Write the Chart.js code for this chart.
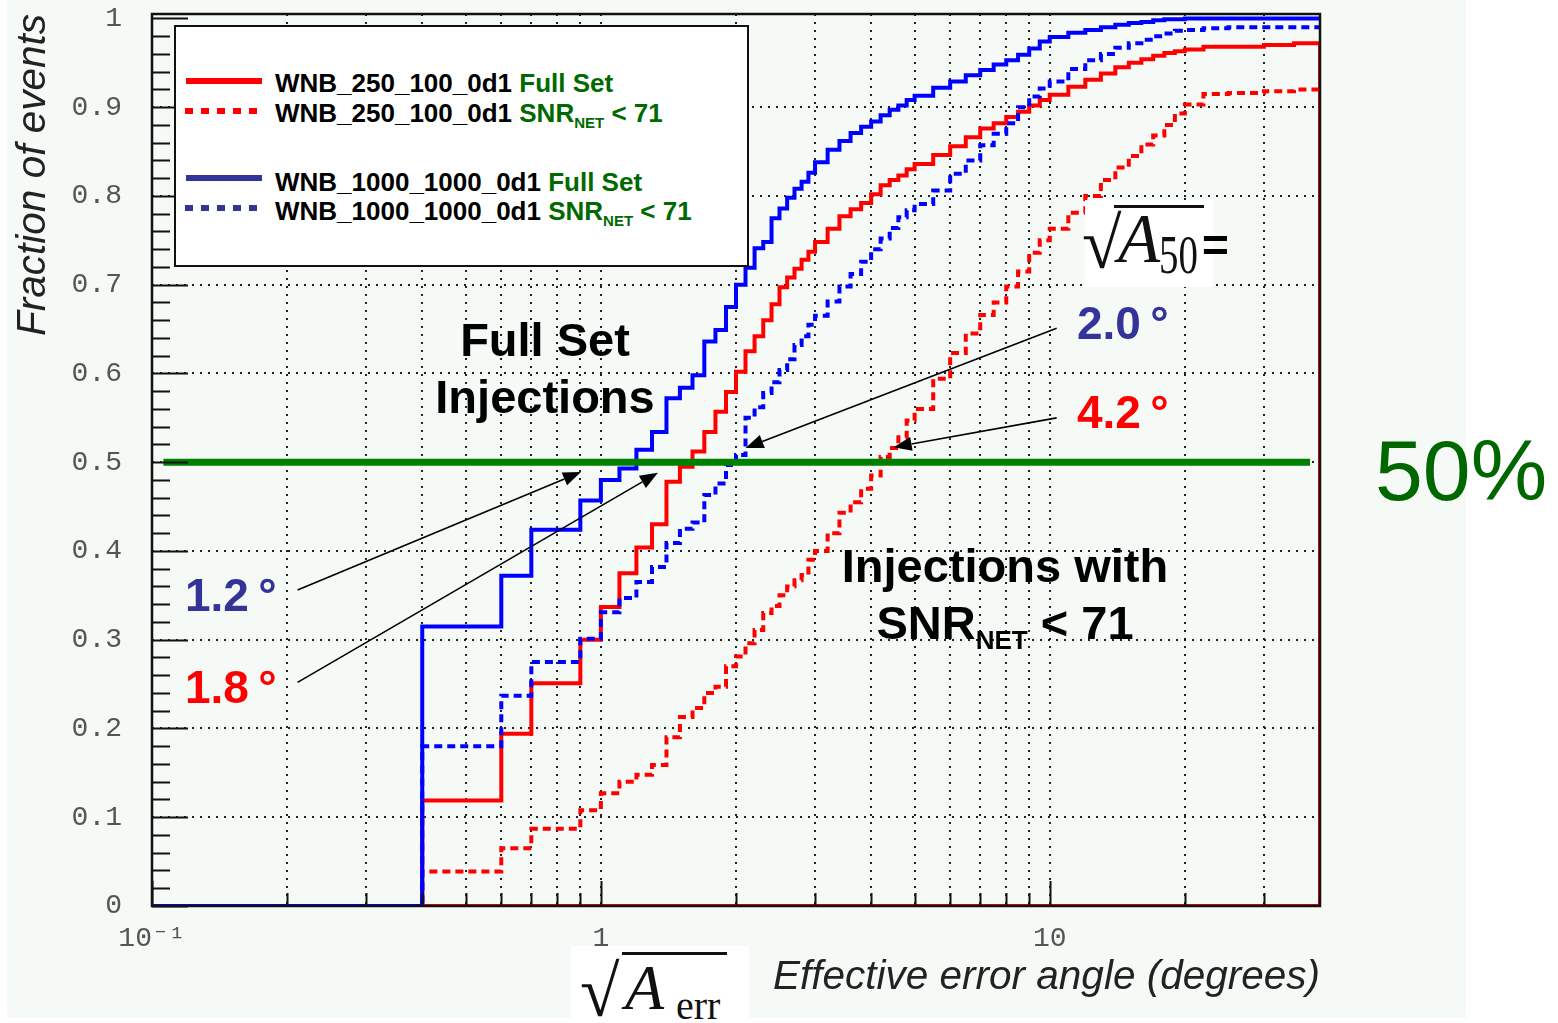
<!DOCTYPE html>
<html>
<head>
<meta charset="utf-8">
<title>Fraction of events vs effective error angle</title>
<script src="https://cdn.jsdelivr.net/npm/chart.js@4.4.1/dist/chart.umd.min.js"></script>
<style>
  html, body { margin: 0; padding: 0; background: #fff; }
  #page { position: relative; width: 1558px; height: 1023px; overflow: hidden;
          font-family: "Liberation Sans", Arial, sans-serif; }
  #slide { position: absolute; left: 7px; top: 0; width: 1459px; height: 1018px; background: #f6faf7; }
  #cdf { position: absolute; left: 0; top: 0; }
  .txt { position: absolute; white-space: nowrap; font-weight: bold; font-size: 46px; line-height: 50px; }
  .big { font-size: 47px; line-height: 57px; text-align: center; width: 360px; color: #000; }
  .navy { color: #333399; }
  .red { color: #ff0000; }
  .sub { font-size: 26px; position: relative; top: 10px; }

  #legend { position: absolute; left: 174px; top: 25px; width: 575px; height: 242px;
            box-sizing: border-box; border: 2px solid #111; background: #fff; }
  #legend .sw { position: absolute; left: 10px; width: 76px; height: 6px; }
  #legend .dot { width: 72px; left: 9px; }
  #legend .row { position: absolute; left: 99px; font-weight: bold; font-size: 26px; line-height: 30px;
                 white-space: nowrap; color: #000; }
  #legend .g { color: #006a00; }
  #legend .s { font-size: 15px; position: relative; top: 6px; }

  .mathbox { position: absolute; background: #fff; }
  .m { position: absolute; font-family: "Liberation Serif", "Times New Roman", serif; color: #111;
       white-space: nowrap; transform-origin: 0 0; }
  .bar { position: absolute; height: 3px; background: #111; }
</style>
</head>
<body>
<div id="page">
  <div id="slide"></div>
  <canvas id="cdf" width="1558" height="1023"></canvas>

  <div id="legend">
    <div class="sw" style="top:51px;background:#ff0000"></div>
    <div class="sw dot" style="top:81px;background:repeating-linear-gradient(90deg,#ff0000 0 8px,transparent 8px 16px)"></div>
    <div class="sw" style="top:148px;background:#333399"></div>
    <div class="sw dot" style="top:178px;background:repeating-linear-gradient(90deg,#333399 0 8px,transparent 8px 16px)"></div>
    <div class="row" style="top:41px">WNB_250_100_0d1 <span class="g">Full Set</span></div>
    <div class="row" style="top:71px">WNB_250_100_0d1 <span class="g">SNR<span class="s">NET</span> &lt; 71</span></div>
    <div class="row" style="top:140px">WNB_1000_1000_0d1 <span class="g">Full Set</span></div>
    <div class="row" style="top:169px">WNB_1000_1000_0d1 <span class="g">SNR<span class="s">NET</span> &lt; 71</span></div>
  </div>

  <div class="txt big" style="left:365px;top:311px">Full Set<br>Injections</div>
  <div class="txt big" style="left:825px;top:537px">Injections with<br>SNR<span class="sub">NET</span> &lt; 71</div>

  <div class="txt navy" style="left:185px;top:570px">1.2&#8201;°</div>
  <div class="txt red" style="left:185px;top:662px">1.8&#8201;°</div>
  <div class="txt navy" style="left:1077px;top:298px">2.0&#8201;°</div>
  <div class="txt red" style="left:1077px;top:387px">4.2&#8201;°</div>

  <div class="txt" style="left:1375px;top:420px;font-size:86px;line-height:100px;font-weight:normal;color:#006600">50%</div>

  <!-- sqrt(A_50) = -->
  <div class="mathbox" style="left:1085px;top:200px;width:128px;height:87px"></div>
  <div class="m" style="left:1082px;top:208px;font-size:72px;line-height:72px">&#8730;</div>
  <div class="bar" style="left:1114px;top:205px;width:90px"></div>
  <div class="m" style="left:1118px;top:205px;font-size:69px;line-height:69px;font-style:italic">A</div>
  <div class="m" style="left:1159px;top:228px;font-size:54px;line-height:54px;transform:scaleX(0.72)">50</div>
  <div class="txt" style="left:1202px;top:220px;color:#000">=</div>

  <!-- sqrt(A_err) -->
  <div class="mathbox" style="left:571px;top:946px;width:178px;height:77px"></div>
  <div class="m" style="left:580px;top:956px;font-size:72px;line-height:72px">&#8730;</div>
  <div class="bar" style="left:622px;top:952px;width:105px"></div>
  <div class="m" style="left:625px;top:956px;font-size:64px;line-height:64px;font-style:italic">A</div>
  <div class="m" style="left:676px;top:986px;font-size:40px;line-height:40px">err</div>
</div>

<script>
// bin edges of the angle histograms (degrees); each value holds until the next edge
const angleEdges = [0.1,
  0.4, 0.5, 0.6, 0.7, 0.8, 0.9, 1.0, 1.1, 1.2, 1.3, 1.4, 1.5, 1.6, 1.7, 1.8, 1.9, 2.0,
  2.1, 2.2, 2.3, 2.4, 2.5, 2.6, 2.7, 2.8, 2.9, 3.0,
  3.2, 3.4, 3.6, 3.8, 4.0, 4.2, 4.4, 4.6, 4.8, 5.0,
  5.5, 6.0, 6.5, 7.0, 7.5, 8.0, 8.5, 9.0, 9.5, 10,
  11, 12, 13, 14, 15, 16, 17, 18, 19, 20,
  22, 25, 30, 35,
  40];

// cumulative fraction of events
const wnb250Full = [0,
  0.119, 0.119, 0.194, 0.251, 0.251, 0.300, 0.337, 0.375, 0.404, 0.430, 0.478, 0.495, 0.512, 0.534, 0.557, 0.579, 0.602,
  0.625, 0.642, 0.660, 0.678, 0.697, 0.708, 0.718, 0.728, 0.737, 0.748,
  0.763, 0.777, 0.785, 0.792, 0.802, 0.812, 0.818, 0.823, 0.830, 0.836,
  0.846, 0.856, 0.866, 0.876, 0.882, 0.889, 0.895, 0.902, 0.908, 0.914,
  0.923, 0.931, 0.938, 0.945, 0.950, 0.954, 0.958, 0.961, 0.963, 0.965,
  0.968, 0.968, 0.970, 0.972,
  0];
const wnb250Snr = [0,
  0.039, 0.039, 0.065, 0.087, 0.087, 0.108, 0.127, 0.140, 0.148, 0.159, 0.190, 0.213, 0.223, 0.240, 0.247, 0.270, 0.281,
  0.296, 0.311, 0.330, 0.338, 0.350, 0.360, 0.367, 0.373, 0.390, 0.400,
  0.420, 0.443, 0.455, 0.470, 0.485, 0.506, 0.516, 0.528, 0.547, 0.560,
  0.594, 0.623, 0.645, 0.666, 0.680, 0.698, 0.715, 0.736, 0.750, 0.763,
  0.781, 0.800, 0.818, 0.832, 0.845, 0.858, 0.868, 0.880, 0.893, 0.903,
  0.915, 0.916, 0.918, 0.920,
  0];
const wnb1000Full = [0,
  0.315, 0.315, 0.372, 0.424, 0.424, 0.457, 0.480, 0.493, 0.514, 0.534, 0.572, 0.584, 0.598, 0.636, 0.649, 0.675, 0.700,
  0.719, 0.741, 0.748, 0.775, 0.786, 0.798, 0.808, 0.816, 0.826, 0.838,
  0.852, 0.862, 0.871, 0.878, 0.884, 0.891, 0.897, 0.902, 0.908, 0.913,
  0.922, 0.929, 0.936, 0.942, 0.948, 0.953, 0.959, 0.966, 0.974, 0.979,
  0.984, 0.987, 0.990, 0.993, 0.995, 0.996, 0.998, 0.999, 0.999, 1.0,
  1.0, 1.0, 1.0, 1.0,
  1.0];
const wnb1000Snr = [0,
  0.180, 0.180, 0.237, 0.275, 0.275, 0.301, 0.331, 0.347, 0.365, 0.382, 0.409, 0.425, 0.432, 0.463, 0.476, 0.497, 0.508,
  0.550, 0.562, 0.578, 0.590, 0.604, 0.616, 0.632, 0.642, 0.655, 0.665,
  0.681, 0.698, 0.712, 0.726, 0.740, 0.752, 0.764, 0.776, 0.784, 0.791,
  0.806, 0.825, 0.840, 0.857, 0.870, 0.882, 0.900, 0.912, 0.921, 0.929,
  0.943, 0.953, 0.960, 0.967, 0.972, 0.976, 0.980, 0.983, 0.986, 0.987,
  0.989, 0.990, 0.990, 0.990,
  0.990];

// bottom edge of the red histogram outline
const baseAngles = [0.4, 40];
const baseLevel = [0, 0];

// the 50% reference level
const halfAngles = [0.106, 38];
const halfLevel = [0.5, 0.5];

// axis ticks
const xTickValues = [0.1, 1, 10];
const xTickLabels = ['10\u207B\u00B9', '1', '10'];
const xMinorValues = [0.2, 0.3, 0.4, 0.5, 0.6, 0.7, 0.8, 0.9, 2, 3, 4, 5, 6, 7, 8, 9, 20, 30];
const yTickValues = [0, 0.1, 0.2, 0.3, 0.4, 0.5, 0.6, 0.7, 0.8, 0.9, 1];
const yTickLabels = ['0', '0.1', '0.2', '0.3', '0.4', '0.5', '0.6', '0.7', '0.8', '0.9', '1'];

function toPoints(xs, ys) {
  return xs.map(function (x, i) { return {x: x, y: ys[i]}; });
}

function histLine(label, ys, color, dotted, order) {
  return {
    label: label,
    data: toPoints(angleEdges, ys),
    borderColor: color,
    borderWidth: 4,
    borderDash: dotted ? [8, 5] : [],
    borderCapStyle: 'butt',
    borderJoinStyle: 'miter',
    stepped: true,
    pointRadius: 0,
    fill: false,
    order: order
  };
}

// arrows from the quoted angles to the curves, in data units
const arrowList = [
  {from: [0.211, 0.356], to: [0.903, 0.489]},
  {from: [0.211, 0.252], to: [1.34, 0.488]},
  {from: [10.36, 0.651], to: [2.10, 0.516]},
  {from: [10.36, 0.550], to: [4.49, 0.517]}
];

const frameAndArrows = {
  id: 'frameAndArrows',
  afterDatasetsDraw: function (chart) {
    var ctx = chart.ctx, a = chart.chartArea;
    var xs = chart.scales.x, ys = chart.scales.y;
    ctx.save();
    ctx.strokeStyle = '#111';
    ctx.lineWidth = 2;
    ctx.beginPath();
    // inner ticks on the left axis
    for (var i = 0; i <= 50; i++) {
      var py = Math.round(ys.getPixelForValue(i * 0.02)) + 0.5;
      var len = (i % 5 === 0) ? 36 : 18;
      ctx.moveTo(a.left, py);
      ctx.lineTo(a.left + len, py);
    }
    // inner ticks on the bottom axis
    xMinorValues.concat(xTickValues).forEach(function (v) {
      var px = Math.round(xs.getPixelForValue(v)) + 0.5;
      var len = xTickValues.indexOf(v) >= 0 ? 25 : 13;
      ctx.moveTo(px, a.bottom);
      ctx.lineTo(px, a.bottom - len);
    });
    ctx.stroke();

    ctx.lineWidth = 2.5;
    ctx.strokeRect(a.left, a.top, a.right - a.left, a.bottom - a.top);

    // arrows
    ctx.strokeStyle = '#000';
    ctx.fillStyle = '#000';
    ctx.lineWidth = 1.6;
    arrowList.forEach(function (ar) {
      var x0 = xs.getPixelForValue(ar.from[0]), y0 = ys.getPixelForValue(ar.from[1]);
      var x1 = xs.getPixelForValue(ar.to[0]), y1 = ys.getPixelForValue(ar.to[1]);
      var ang = Math.atan2(y1 - y0, x1 - x0);
      var head = 18, half = 7;
      var bx = x1 - head * Math.cos(ang), by = y1 - head * Math.sin(ang);
      ctx.beginPath();
      ctx.moveTo(x0, y0);
      ctx.lineTo(bx, by);
      ctx.stroke();
      ctx.beginPath();
      ctx.moveTo(x1, y1);
      ctx.lineTo(bx + half * Math.sin(ang), by - half * Math.cos(ang));
      ctx.lineTo(bx - half * Math.sin(ang), by + half * Math.cos(ang));
      ctx.closePath();
      ctx.fill();
    });
    ctx.restore();
  }
};

var gridDots = 'rgba(10,10,10,0.9)';
var tickFont = {family: '"Liberation Mono", "DejaVu Sans Mono", monospace', size: 28, lineHeight: 1};
var titleFont = {family: '"Liberation Sans", Arial, sans-serif', size: 40.5, style: 'italic', lineHeight: 1.2};

new Chart(document.getElementById('cdf'), {
  type: 'line',
  data: {
    datasets: [
      {
        label: '50%',
        data: toPoints(halfAngles, halfLevel),
        borderColor: '#008000',
        borderWidth: 7,
        borderCapStyle: 'butt',
        pointRadius: 0,
        fill: false,
        order: 0
      },
      histLine('WNB_250_100_0d1 Full Set', wnb250Full, '#ff0000', false, 3),
      histLine('WNB_250_100_0d1 SNR_NET < 71', wnb250Snr, '#ff0000', true, 4),
      histLine('WNB_1000_1000_0d1 Full Set', wnb1000Full, '#0000ff', false, 1),
      histLine('WNB_1000_1000_0d1 SNR_NET < 71', wnb1000Snr, '#0000ff', true, 2),
      {
        label: 'outline',
        data: toPoints(baseAngles, baseLevel),
        borderColor: '#ff0000',
        borderWidth: 4,
        pointRadius: 0,
        fill: false,
        order: 3
      }
    ]
  },
  options: {
    responsive: false,
    animation: false,
    devicePixelRatio: 1,
    layout: {padding: {top: 14, right: 238, left: 0, bottom: 0}},
    plugins: {
      legend: {display: false},
      tooltip: {enabled: false}
    },
    scales: {
      x: {
        type: 'logarithmic',
        min: 0.1,
        max: 40,
        afterBuildTicks: function (scale) {
          scale.ticks = xMinorValues.concat(xTickValues)
            .sort(function (p, q) { return p - q; })
            .map(function (v) { return {value: v}; });
        },
        afterFit: function (scale) {
          scale.height = 117;
          scale.paddingLeft = 0;
          scale.paddingRight = 0;
        },
        grid: {color: gridDots, lineWidth: 2, drawTicks: false},
        border: {display: false, dash: [2, 6]},
        ticks: {
          autoSkip: false,
          maxRotation: 0,
          padding: 19,
          color: '#555',
          font: tickFont,
          callback: function (v) {
            var k = xTickValues.indexOf(v);
            return k >= 0 ? xTickLabels[k] : '';
          }
        },
        title: {
          display: true,
          text: 'Effective error angle (degrees)',
          align: 'end',
          color: '#222',
          font: titleFont,
          padding: {top: 0, bottom: 21}
        }
      },
      y: {
        min: 0,
        max: 1.005,
        afterBuildTicks: function (scale) {
          scale.ticks = yTickValues.map(function (v) { return {value: v}; });
        },
        afterFit: function (scale) {
          scale.width = 152;
          scale.paddingTop = 0;
          scale.paddingBottom = 0;
        },
        grid: {
          lineWidth: 2,
          drawTicks: false,
          color: function (c) {
            return (c.tick && c.tick.value > 0.01 && c.tick.value < 0.99) ? gridDots : 'transparent';
          }
        },
        border: {display: false, dash: [2, 6]},
        ticks: {
          autoSkip: false,
          padding: 30,
          color: '#555',
          font: tickFont,
          callback: function (v, i) { return yTickLabels[i]; }
        },
        title: {
          display: true,
          text: 'Fraction of events',
          align: 'end',
          color: '#222',
          font: titleFont,
          padding: {top: 9, bottom: 0}
        }
      }
    }
  },
  plugins: [frameAndArrows]
});
</script>
</body>
</html>
